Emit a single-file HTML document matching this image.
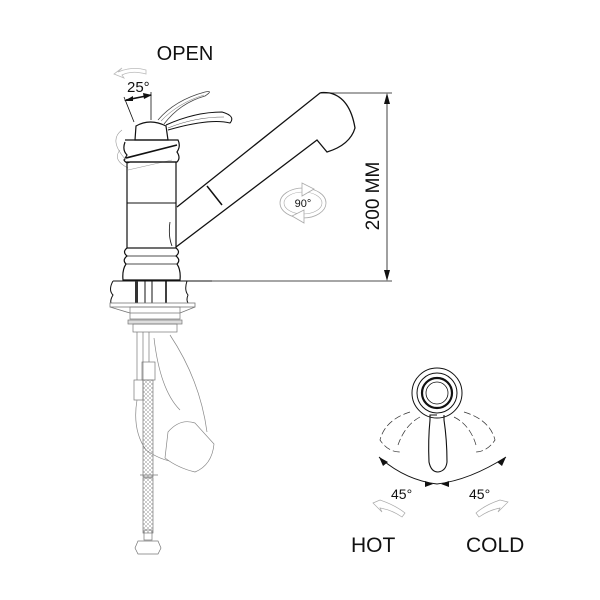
<!DOCTYPE html>
<html><head><meta charset="utf-8"><style>html,body{margin:0;padding:0;background:#fff}svg{display:block}</style></head>
<body>
<svg width="600" height="600" viewBox="0 0 600 600" xmlns="http://www.w3.org/2000/svg" font-family="Liberation Sans, sans-serif">
<defs>
<pattern id="hatch" width="4" height="4" patternUnits="userSpaceOnUse">
<path d="M0 4 L4 0 M0 0 L4 4" stroke="#999" stroke-width="0.5"/>
</pattern>
</defs>
<rect width="600" height="600" fill="#fff"/>
<text x="185" y="60" font-size="20" text-anchor="middle" fill="#111">OPEN</text>
<path d="M118 72 Q132 66 146 70 L146 74 Q132 70 122 75 L124 78 L114 74 L122 68 Z" fill="none" stroke="#bbb" stroke-width="0.8"/>
<text x="127" y="92" font-size="15" fill="#111">25°</text>
<line x1="124" y1="97" x2="134" y2="122" stroke="#111" stroke-width="0.8"/>
<line x1="151" y1="92" x2="151" y2="120" stroke="#111" stroke-width="0.8"/>
<line x1="126" y1="100" x2="151" y2="95" stroke="#111" stroke-width="1.5"/>
<path d="M124 101 L133 96 L133 101 Z M152 95 L143 93 L144 99 Z" fill="#111"/>
<path d="M158 120 Q175 100 205 92 Q214 90 205 96 Q180 103 164 124" fill="none" stroke="#444" stroke-width="0.8"/>
<path d="M161 121 Q178 103 204 95" fill="none" stroke="#888" stroke-width="0.6"/>
<path d="M166 125 Q195 112 222 112 Q236 116 230 123 Q210 118 168 130" fill="none" stroke="#111" stroke-width="1"/>
<path d="M168 128 Q195 117 224 117" fill="none" stroke="#555" stroke-width="0.6"/>
<path d="M136 126 Q150 118 166 126 L168 140 L135 140 Z" fill="none" stroke="#111" stroke-width="1.2"/>
<path d="M125 142 Q122 150 127 155 L124 160 Q126 164 130 162 L177 162 Q181 158 177 152 Q181 146 178 140 L125 140" fill="none" stroke="#111" stroke-width="1.2"/>
<path d="M122 130 Q108 140 126 160 M120 150 Q112 160 128 168" fill="none" stroke="#999" stroke-width="0.6"/>
<line x1="126" y1="158" x2="177" y2="145" stroke="#111" stroke-width="1.6"/>
<line x1="128" y1="170" x2="172" y2="160" stroke="#999" stroke-width="0.6"/>
<rect x="127" y="162" width="49" height="86" fill="none" stroke="#111" stroke-width="1.2"/>
<line x1="127" y1="203" x2="176" y2="203" stroke="#111" stroke-width="1.1"/>
<path d="M170 222 Q168 236 172 246" fill="none" stroke="#111" stroke-width="0.8"/>
<path d="M127 248 Q122 252 127 256 Q122 260 126 264 Q122 270 123 280 L180 280 Q181 270 177 264 Q181 260 176 256 Q181 252 176 248" fill="none" stroke="#111" stroke-width="1.2"/>
<line x1="126" y1="256" x2="177" y2="256" stroke="#111" stroke-width="0.8"/>
<line x1="126" y1="264" x2="177" y2="264" stroke="#111" stroke-width="0.8"/>
<path d="M176 247 L317 140 L327 152 Q350 145 355 128 Q350 98 330 93 Q322 92 320 93 L177 207" fill="none" stroke="#111" stroke-width="1.3"/>
<line x1="207" y1="186" x2="222" y2="205" stroke="#111" stroke-width="1.5"/>
<line x1="320" y1="93" x2="392" y2="93" stroke="#111" stroke-width="0.8"/>
<line x1="212" y1="281" x2="392" y2="281" stroke="#111" stroke-width="0.8"/>
<line x1="387" y1="96" x2="387" y2="278" stroke="#111" stroke-width="0.8"/>
<path d="M387 93 L384 104 L390 104 Z M387 281 L384 270 L390 270 Z" fill="#111"/>
<text transform="translate(379,196) rotate(-90)" font-size="19" text-anchor="middle" fill="#111">200 MM</text>
<ellipse cx="303" cy="203" rx="23" ry="15" fill="none" stroke="#aaa" stroke-width="0.8"/>
<ellipse cx="303" cy="203" rx="19" ry="11" fill="none" stroke="#aaa" stroke-width="0.6"/>
<path d="M302 183 L314 189 L302 196 Z M304 210 L292 216 L304 223 Z" fill="#fff" stroke="#aaa" stroke-width="0.8"/>
<text x="303" y="207" font-size="11" text-anchor="middle" fill="#111">90°</text>
<path d="M113 281 Q108 290 113 295 Q110 300 111 303 M187 281 Q184 290 188 295 Q186 300 188 303" fill="none" stroke="#111" stroke-width="1"/>
<line x1="113" y1="281" x2="212" y2="281" stroke="#111" stroke-width="1"/>
<rect x="135" y="281" width="3" height="22" fill="#333"/>
<line x1="145" y1="281" x2="145" y2="303" stroke="#111" stroke-width="1"/>
<line x1="152" y1="281" x2="152" y2="303" stroke="#111" stroke-width="1"/>
<line x1="166" y1="281" x2="166" y2="303" stroke="#111" stroke-width="1.6"/>
<rect x="110" y="303" width="85" height="4" fill="none" stroke="#777" stroke-width="0.8"/>
<path d="M110 307 L130 313 L180 313 L195 307" fill="none" stroke="#777" stroke-width="0.8"/>
<rect x="130" y="307" width="50" height="12" fill="none" stroke="#777" stroke-width="0.7"/>
<rect x="128" y="320" width="54" height="4" fill="#ddd" stroke="#777" stroke-width="0.7"/>
<rect x="133" y="324" width="44" height="8" fill="none" stroke="#777" stroke-width="0.7"/>
<line x1="137" y1="332" x2="137" y2="380" stroke="#777" stroke-width="0.7"/>
<line x1="143" y1="332" x2="143" y2="380" stroke="#777" stroke-width="0.7"/>
<line x1="149" y1="332" x2="149" y2="362" stroke="#777" stroke-width="0.7"/>
<rect x="142" y="362" width="13" height="18" fill="none" stroke="#777" stroke-width="0.7"/>
<rect x="134" y="380" width="9" height="20" fill="none" stroke="#777" stroke-width="0.7"/>
<rect x="143" y="380" width="10" height="97" fill="url(#hatch)" stroke="#777" stroke-width="0.7"/>
<line x1="140" y1="475" x2="158" y2="475" stroke="#777" stroke-width="0.7"/>
<rect x="143" y="478" width="10" height="55" fill="url(#hatch)" stroke="#777" stroke-width="0.7"/>
<rect x="144" y="530" width="8" height="10" fill="none" stroke="#777" stroke-width="0.7"/>
<path d="M138 541 L158 541 L161 548 L158 554 L138 554 L135 548 Z" fill="none" stroke="#777" stroke-width="0.7"/>
<path d="M137 400 Q132 430 146 450 Q160 460 175 462 M154 338 Q160 390 180 410 M170 335 Q200 380 207 432" fill="none" stroke="#888" stroke-width="0.7"/>
<path d="M168 432 Q180 418 195 423 L214 444 Q212 465 195 472 Q178 468 165 458 Z" fill="#fff" stroke="#888" stroke-width="0.7"/>
<circle cx="437" cy="393" r="25" fill="none" stroke="#111" stroke-width="1"/>
<circle cx="437" cy="393" r="20" fill="none" stroke="#111" stroke-width="1"/>
<circle cx="437" cy="393" r="15" fill="none" stroke="#111" stroke-width="2.2"/>
<circle cx="437" cy="393" r="11" fill="none" stroke="#111" stroke-width="0.8"/>
<path d="M437 415 L430 415 L430 420 Q428 440 429 462 Q431 472 438 472 Q446 471 447 462 Q447 440 444 420 L444 415" fill="none" stroke="#111" stroke-width="1.1"/>
<path d="M410 412 Q385 420 380 440 Q388 452 400 452 M420 417 Q405 425 398 445 M464 412 Q490 420 495 440 Q487 452 475 452 M454 417 Q470 425 476 445" fill="none" stroke="#333" stroke-width="0.7" stroke-dasharray="7 3"/>
<path d="M379 457 Q405 480 437 484 Q470 480 506 457" fill="none" stroke="#111" stroke-width="0.9"/>
<path d="M379 457 L383 466 L388 462 Z M506 457 L497 462 L502 466 Z M433 484 L425 481 L425 487 Z M441 484 L449 481 L449 487 Z" fill="#111"/>
<text x="391" y="499" font-size="14" fill="#111">45°</text>
<text x="469" y="499" font-size="14" fill="#111">45°</text>
<path d="M373 503 L380 500 Q395 505 405 513 L402 517 Q392 510 380 508 L382 512 Z" fill="none" stroke="#aaa" stroke-width="0.7"/>
<path d="M508 502 L500 500 Q485 505 476 513 L479 517 Q489 510 500 508 L498 512 Z" fill="none" stroke="#aaa" stroke-width="0.7"/>
<text x="351" y="552" font-size="21" fill="#111">HOT</text>
<text x="466" y="552" font-size="21" fill="#111">COLD</text>
</svg>
</body></html>
